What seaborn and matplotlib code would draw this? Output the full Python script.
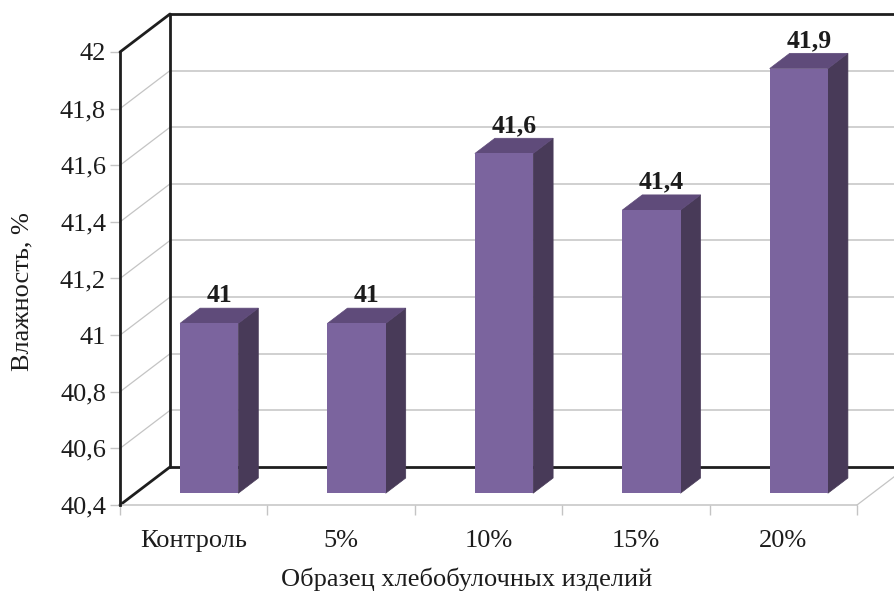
import matplotlib
matplotlib.use("Agg")
import matplotlib.pyplot as plt
from matplotlib.patches import Polygon
import seaborn as sns
import pandas as pd

# Moisture of bread samples
categories = ["Контроль", "5%", "10%", "15%", "20%"]
moisture = [41.0, 41.0, 41.6, 41.4, 41.9]
value_labels = ["41", "41", "41,6", "41,4", "41,9"]
y_ticks = [40.4, 40.6, 40.8, 41.0, 41.2, 41.4, 41.6, 41.8, 42.0]
y_tick_labels = ["40,4", "40,6", "40,8", "41", "41,2", "41,4", "41,6", "41,8", "42"]

sns.set_style("white")
plt.rcParams["font.family"] = ["Liberation Serif", "DejaVu Serif"]

W, H, DPI = 894, 592, 100
fig = plt.figure(figsize=(W / DPI, H / DPI), dpi=DPI)

# front plane of the 3-D box, in pixels
left_px, right_px, bottom_px, top_px = 120, 857, 505, 52
ax = fig.add_axes([left_px / W, 1 - bottom_px / H,
                   (right_px - left_px) / W, (bottom_px - top_px) / H])
ymin, ymax = 40.4, 42.0
xmin, xmax = -0.5, len(categories) - 0.5
ax.set_xlim(xmin, xmax)
ax.set_ylim(ymin, ymax)
ax.patch.set_alpha(0)

# depth vector (pixels) converted to data units
DEPTH_X_PX, DEPTH_Y_PX = 50, 38
px_per_x = (right_px - left_px) / (xmax - xmin)
px_per_y = (bottom_px - top_px) / (ymax - ymin)
DXu = DEPTH_X_PX / px_per_x
DYu = DEPTH_Y_PX / px_per_y


def P(x, y, d):
    return (x + d * DXu, y + d * DYu)


GRID = "#c4c4c4"
FRAME = "#1e1e1e"
TEXT = "#1c1c1c"
FS = 19


def seg(a, b, color, lw, z):
    ax.plot([a[0], b[0]], [a[1], b[1]], color=color, lw=lw, zorder=z,
            clip_on=False, solid_capstyle="round")


# gridlines on back wall and left wall
for t in y_ticks[1:-1]:
    seg(P(xmin, t, 1), P(xmax, t, 1), GRID, 1.1, 1)
    seg(P(xmin, t, 0), P(xmin, t, 1), GRID, 0.9, 1)

# floor outline (right edge)
seg(P(xmax, ymin, 0), P(xmax, ymin, 1), GRID, 0.9, 1)

# black frame of the walls
seg(P(xmin, ymax, 0), P(xmin, ymax, 1), FRAME, 2.0, 2)
seg(P(xmin, ymax, 1), P(xmax, ymax, 1), FRAME, 2.0, 2)
seg(P(xmin, ymax, 1), P(xmin, ymin, 1), FRAME, 2.0, 2)
seg(P(xmin, ymin, 1), P(xmax, ymin, 1), FRAME, 2.0, 2)
seg(P(xmin, ymin, 0), P(xmin, ymin, 1), FRAME, 2.0, 2)
seg(P(xmax, ymax, 1), P(xmax, ymin, 1), FRAME, 2.0, 2)

# bars
FRONT = "#7b649e"
SIDE = "#483a58"
TOP = "#5f4b7a"
d0, d1 = 0.31, 0.71
bar_w = 0.395

df = pd.DataFrame({"sample": categories, "moisture": moisture})
sns.barplot(data=df, x="sample", y="moisture", ax=ax, width=bar_w,
            color=FRONT, saturation=1, order=categories)

for i, (rect, v) in enumerate(zip(ax.patches, moisture)):
    xl = rect.get_x()
    w = rect.get_width()
    xr = xl + w
    fx, fy = P(xl, ymin, d0)
    rect.set_x(fx)
    rect.set_y(fy)
    rect.set_height(v - ymin)
    rect.set_edgecolor("none")
    rect.set_zorder(5)
    rect.set_clip_on(False)
    side = [P(xr, ymin, d0), P(xr, ymin, d1), P(xr, v, d1), P(xr, v, d0)]
    top = [P(xl, v, d0), P(xr, v, d0), P(xr, v, d1), P(xl, v, d1)]
    ax.add_patch(Polygon(side, closed=True, facecolor=SIDE, edgecolor=SIDE,
                         lw=0.5, zorder=4.9, clip_on=False))
    ax.add_patch(Polygon(top, closed=True, facecolor=TOP, edgecolor=TOP,
                         lw=0.5, zorder=4.9, clip_on=False))
    cx = xl + w / 2
    lx = cx + (d0 + d1) / 2 * DXu
    ly = v + d1 * DYu
    ax.annotate(value_labels[i], (lx, ly), xytext=(0, 4.5),
                textcoords="offset points", ha="center", va="baseline",
                fontsize=18.5, fontweight="bold", color=TEXT, zorder=6,
                annotation_clip=False)

# axes, ticks and labels
for s in ["top", "right"]:
    ax.spines[s].set_visible(False)
ax.spines["left"].set_color(FRAME)
ax.spines["left"].set_linewidth(2.0)
ax.spines["left"].set_zorder(3)
ax.spines["bottom"].set_color(GRID)
ax.spines["bottom"].set_linewidth(1.1)

ax.set_yticks(y_ticks)
ax.set_yticklabels(y_tick_labels)
ax.set_xticks(range(len(categories)))
ax.set_xticklabels(categories)
ax.set_xticks([k - 0.5 for k in range(len(categories) + 1)], minor=True)
ax.tick_params(axis="y", which="major", left=True, length=7, width=1,
               color=GRID, pad=3, labelsize=FS, labelcolor=TEXT)
ax.tick_params(axis="x", which="major", bottom=False, length=0, pad=18,
               labelsize=FS, labelcolor=TEXT)
ax.tick_params(axis="x", which="minor", bottom=True, length=7, width=1,
               color=GRID)
ax.set_xlabel("")
ax.set_ylabel("")

fig.text(467 / W, 1 - 579 / H, "Образец хлебобулочных изделий",
         fontsize=FS, color=TEXT, ha="center", va="center")
fig.text(22 / W, 1 - 292 / H, "Влажность, %", rotation=90,
         fontsize=FS, color=TEXT, ha="center", va="center")

fig.savefig("out.png", dpi=DPI, facecolor="white")
